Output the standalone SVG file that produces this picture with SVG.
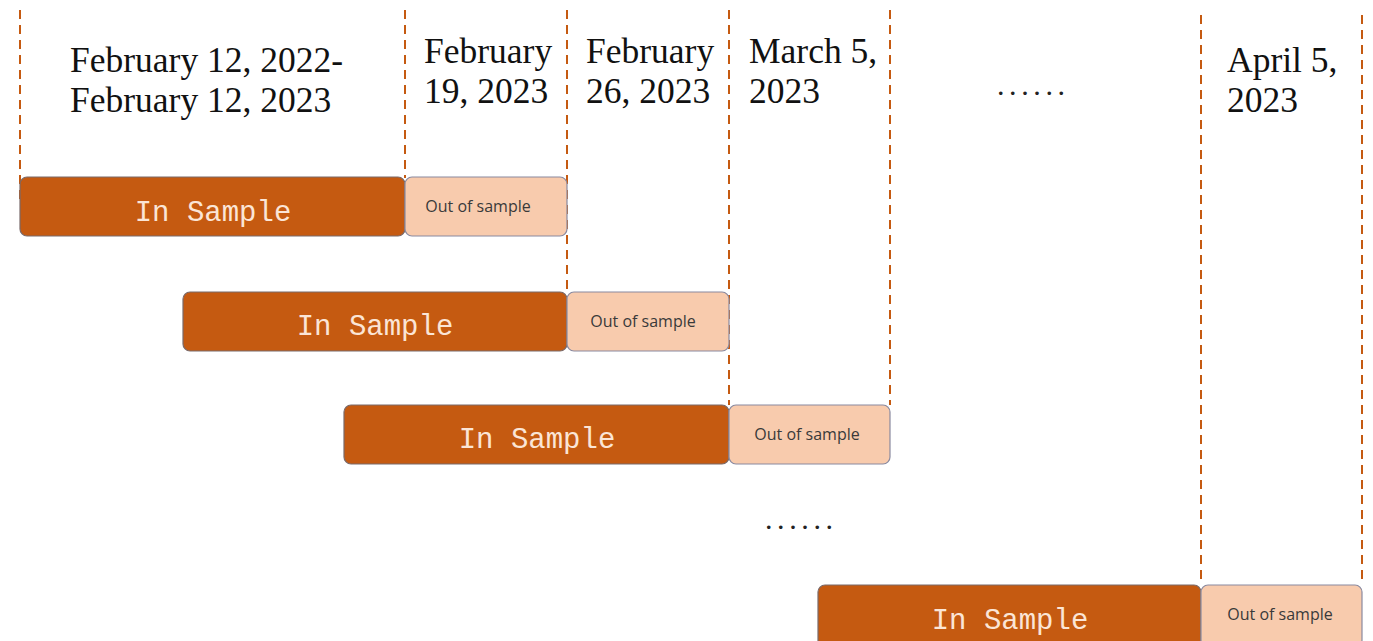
<svg xmlns="http://www.w3.org/2000/svg" width="1373" height="641" viewBox="0 0 1373 641">
<style>
.bg{fill:#ffffff}
.dash{stroke:#C55A11;stroke-width:2;stroke-dasharray:9 6;fill:none}
.ins{fill:#C55A11;stroke:#7a6a6a;stroke-width:1.2}
.oos{fill:#F8CBAD;stroke:#8a8aa0;stroke-width:1.2}
.date{font-family:"Liberation Serif","Times New Roman",serif;font-size:35.5px;fill:#111}
.int{font-family:"Liberation Mono","DejaVu Sans Mono",monospace;font-size:29px;fill:#FBE5D6;text-anchor:middle}
.oot{font-family:"Open Sans","Noto Sans",sans-serif;font-size:16px;fill:#3a3a3a;text-anchor:middle}
.dots{font-family:"Liberation Serif",serif;font-size:30px;fill:#222;letter-spacing:4.6px}
</style>
<rect class="bg" x="0" y="0" width="1373" height="641"/>
<g id="connectors">
<line class="dash" x1="20" y1="10" x2="20" y2="205"/>
<line class="dash" x1="405" y1="10" x2="405" y2="178"/>
<line class="dash" x1="567" y1="10" x2="567" y2="292"/>
<line class="dash" x1="729" y1="10" x2="729" y2="405"/>
<line class="dash" x1="890" y1="10" x2="890" y2="405"/>
<line class="dash" x1="1201" y1="15" x2="1201" y2="585"/>
<line class="dash" x1="1362" y1="15" x2="1362" y2="585"/>
</g>
<g id="labels">
<text class="date" x="70" y="72">February 12, 2022-</text>
<text class="date" x="70" y="112">February 12, 2023</text>
<text class="date" x="424" y="63">February</text>
<text class="date" x="424" y="103">19, 2023</text>
<text class="date" x="586" y="63">February</text>
<text class="date" x="586" y="103">26, 2023</text>
<text class="date" x="749" y="63">March 5,</text>
<text class="date" x="749" y="103">2023</text>
<text class="date" x="1227" y="72">April 5,</text>
<text class="date" x="1227" y="112">2023</text>
<text class="dots" x="997" y="95">......</text>
<text class="dots" x="765" y="529">......</text>
</g>
<g id="row1">
<rect class="ins" x="20" y="177" width="385" height="59" rx="7"/>
<text class="int" x="213" y="221">In Sample</text>
<rect class="oos" x="405" y="177" width="162" height="59" rx="7"/>
<text class="oot" x="478" y="212">Out of sample</text>
</g>
<g id="row2">
<rect class="ins" x="183" y="292" width="384" height="59" rx="7"/>
<text class="int" x="375" y="335">In Sample</text>
<rect class="oos" x="567" y="292" width="162" height="59" rx="7"/>
<text class="oot" x="643" y="327">Out of sample</text>
</g>
<g id="row3">
<rect class="ins" x="344" y="405" width="385" height="59" rx="7"/>
<text class="int" x="537" y="448">In Sample</text>
<rect class="oos" x="729" y="405" width="161" height="59" rx="7"/>
<text class="oot" x="807" y="440">Out of sample</text>
</g>
<g id="row4">
<rect class="ins" x="818" y="585" width="383" height="62" rx="7"/>
<text class="int" x="1010" y="629">In Sample</text>
<rect class="oos" x="1201" y="585" width="161" height="62" rx="7"/>
<text class="oot" x="1280" y="620">Out of sample</text>
</g>
</svg>
